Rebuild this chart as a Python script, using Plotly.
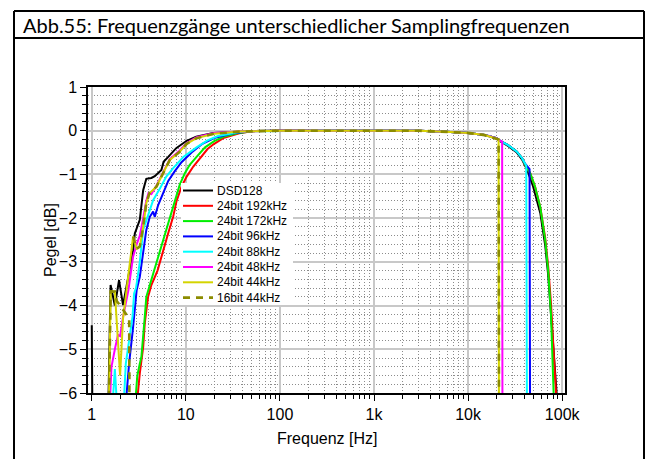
import plotly.graph_objects as go

# ---- measured frequency responses (Hz, dB) ----
# shared passband section
pass_f = [50, 100, 300, 1000, 3000, 6500, 10000, 15000, 20000]
pass_db = [-0.01, 0, 0, 0, 0, -0.03, -0.05, -0.1, -0.17]

dsd_low_f = [1.0, 1.02, 1.48, 1.585, 1.76, 1.95, 2.15, 2.75, 2.87, 3.24, 3.52, 3.8, 4.3, 4.68, 5.5, 5.8, 6.5, 7.9, 10.2, 12.9, 19.5, 37]
dsd_low_db = [-4.45, -7, -7, -3.53, -4.0, -3.42, -3.99, -2.75, -2.35, -2.04, -1.36, -1.1, -1.08, -1.04, -0.9, -0.71, -0.6, -0.4, -0.23, -0.14, -0.05, -0.02]
dsd_high_f = [21900, 26600, 33000, 37500, 42500, 49000, 58500, 66000, 71000, 76000, 81000, 85000, 90000]
dsd_high_db = [-0.24, -0.35, -0.5, -0.66, -0.9, -1.27, -1.88, -2.62, -3.3, -4.2, -5.1, -5.7, -6.4]

r192_low_f = [3.0, 3.24, 3.52, 3.66, 3.97, 4.3, 5.0, 5.74, 6.48, 7.33, 7.94, 9.0, 10.2, 12, 14.1, 17, 20, 25, 37]
r192_low_db = [-6.3, -5.55, -4.95, -4.4, -3.8, -3.53, -3.2, -2.73, -2.35, -1.97, -1.62, -1.28, -1.05, -0.82, -0.63, -0.42, -0.3, -0.17, -0.06]
r192_high_f = [21900, 26600, 33000, 37500, 40500, 45700, 51600, 58500, 66000, 71000, 76000, 81000, 85000, 88000]
r192_high_db = [-0.23, -0.33, -0.48, -0.63, -0.78, -0.97, -1.29, -1.75, -2.45, -3.1, -3.95, -4.9, -5.7, -6.4]

r172_low_f = [2.88, 3.05, 3.24, 3.37, 3.66, 3.8, 4.14, 4.6, 5.3, 5.98, 6.76, 7.64, 8.6, 9.76, 11, 13, 16, 20, 25, 37]
r172_low_db = [-6.3, -5.6, -5.33, -5.17, -4.26, -3.8, -3.53, -3.2, -2.73, -2.35, -1.97, -1.59, -1.24, -0.97, -0.78, -0.6, -0.38, -0.24, -0.14, -0.05]
r172_high_f = [21900, 26600, 33000, 37500, 40500, 45700, 51600, 58500, 66000, 71000, 76000, 79000, 82000]
r172_high_db = [-0.23, -0.33, -0.48, -0.63, -0.78, -0.97, -1.29, -1.75, -2.5, -3.2, -4.2, -5.1, -6.3]

r96_low_f = [2.15, 2.5, 2.73, 3.0, 3.24, 3.52, 3.8, 4.14, 4.49, 4.68, 5.08, 5.74, 6.5, 7.6, 9, 11.5, 15, 20, 30, 37]
r96_low_db = [-7, -5.3, -4.56, -3.65, -3.34, -2.8, -2.27, -1.97, -1.85, -1.97, -1.7, -1.43, -1.15, -0.93, -0.72, -0.5, -0.3, -0.17, -0.07, -0.04]
r96_high_f = [21900, 26600, 33000, 37500, 40500, 45000, 45600]
r96_high_db = [-0.23, -0.33, -0.48, -0.63, -0.76, -0.88, -7]

r88_low_f = [1.58, 1.76, 1.94, 2.1, 2.3, 2.5, 2.71, 2.82, 2.95, 3.08, 3.24, 3.52, 3.97, 4.49, 5.3, 6.2, 7.3, 9.4, 13, 17, 22, 37]
r88_low_db = [-7, -5.45, -7, -7, -5.33, -4.79, -4.26, -3.72, -3.6, -3.34, -3.0, -2.27, -1.93, -1.59, -1.32, -1.05, -0.86, -0.6, -0.38, -0.22, -0.12, -0.03]
r88_high_f = [21900, 26600, 33000, 37500, 41500, 42300]
r88_high_db = [-0.23, -0.33, -0.48, -0.63, -0.8, -7]

r48_low_f = [1.5, 1.62, 1.76, 1.9, 2.0, 2.15, 2.45, 2.75, 3.0, 3.24, 3.52, 3.8, 4.0, 4.3, 4.87, 5.7, 6.75, 8.6, 10.2, 13, 20, 37]
r48_low_db = [-7, -5.4, -5.0, -4.67, -4.7, -4.26, -3.65, -2.88, -2.6, -2.4, -2.0, -1.6, -1.43, -1.45, -1.26, -0.95, -0.65, -0.45, -0.28, -0.15, -0.05, -0.02]
r48_high_f = [21900, 23000, 23200]
r48_high_db = [-0.23, -0.25, -7]

r44_low_f = [1.5, 1.59, 1.76, 1.83, 2.0, 2.15, 2.35, 2.54, 2.75, 3.0, 3.24, 3.52, 3.8, 4.1, 4.87, 5.7, 6.75, 8.6, 10.2, 13, 20, 37]
r44_low_db = [-7, -3.68, -3.68, -4.22, -5.6, -4.3, -3.65, -3.11, -2.42, -2.7, -2.65, -2.2, -1.66, -1.43, -1.28, -0.98, -0.67, -0.48, -0.3, -0.17, -0.07, -0.02]
r44_high_f = [20800, 21100, 21300]
r44_high_db = [-0.19, -0.2, -7]

b16_low_f = [1.5, 1.59, 1.76, 1.85, 2.1, 2.35, 2.5, 2.52, None, 2.75, 3.0, 3.24, 3.52, 3.8, 4.1, 4.87, 5.7, 6.75, 8.6, 10.2, 13, 20, 37]
b16_low_db = [-7, -3.68, -3.68, -3.9, -4.06, -4.2, -4.3, -7, None, -2.42, -2.7, -2.65, -2.2, -1.66, -1.43, -1.28, -0.98, -0.67, -0.48, -0.3, -0.17, -0.07, -0.02]
b16_high_f = [20800, 21100, 21300]
b16_high_db = [-0.19, -0.2, -7]

names = ["DSD128", "24bit 192kHz", "24bit 172kHz", "24bit 96kHz",
         "24bit 88kHz", "24bit 48kHz", "24bit 44kHz", "16bit 44kHz"]

series = [
    (dsd_low_f, dsd_low_db, dsd_high_f, dsd_high_db),
    (r192_low_f, r192_low_db, r192_high_f, r192_high_db),
    (r172_low_f, r172_low_db, r172_high_f, r172_high_db),
    (r96_low_f, r96_low_db, r96_high_f, r96_high_db),
    (r88_low_f, r88_low_db, r88_high_f, r88_high_db),
    (r48_low_f, r48_low_db, r48_high_f, r48_high_db),
    (r44_low_f, r44_low_db, r44_high_f, r44_high_db),
    (b16_low_f, b16_low_db, b16_high_f, b16_high_db),
]

colors = ["#000000", "#ff0000", "#00ee00", "#0000ff", "#00ffff", "#ff00ff", "#d4d400", "#8c8c00"]
dashes = ["solid"] * 7 + ["7px,6px"]
widths = [2, 2, 2, 2, 2, 2, 2, 2.6]

# ---- geometry of the plot area (pixels) ----
W, H = 652, 459
PL, PR, PT, PB = 88, 565, 87, 393


def px(x):
    return (x - PL) / (PR - PL)


def py(y):
    return (PB - y) / (PB - PT)


fig = go.Figure()
for name, (lf, ld, hf, hd), c, d, w in zip(names, series, colors, dashes, widths):
    fig.add_trace(go.Scatter(
        x=lf + pass_f + hf, y=ld + pass_db + hd, mode="lines", name=name,
        line=dict(color=c, width=w, dash=d), showlegend=False,
    ))

minor_x = [m * 10 ** k for k in range(0, 5) for m in range(2, 10)]
font = "Liberation Sans, Arial, sans-serif"
dotted = dict(showgrid=True, gridcolor="#8c8c8c", griddash="1px,2px", gridwidth=1)

fig.update_xaxes(
    type="log", range=[-0.04, 5.03],
    tickvals=[1, 10, 100, 1000, 10000, 100000],
    ticktext=["1", "10", "100", "1k", "10k", "100k"],
    ticks="outside", ticklen=6, tickwidth=1, tickcolor="black",
    showline=True, linecolor="black", linewidth=1.5, mirror=True,
    showgrid=True, gridcolor="#c8c8c8", gridwidth=1.5,
    minor=dict(tickvals=minor_x, ticks="outside", ticklen=4, tickcolor="black", **dotted),
    tickfont=dict(family=font, size=16, color="black"),
    zeroline=False,
)
fig.update_yaxes(
    range=[-6, 1], dtick=1, tick0=0,
    ticks="outside", ticklen=6, tickwidth=1, tickcolor="black",
    showline=True, linecolor="black", linewidth=1.5, mirror=True,
    showgrid=True, gridcolor="#c8c8c8", gridwidth=1.5,
    minor=dict(dtick=0.2, ticks="outside", ticklen=4, tickcolor="black", **dotted),
    tickfont=dict(family=font, size=16, color="black"),
    zeroline=False,
)

shapes = []
# outer frame and title row
frame = dict(type="line", xref="paper", yref="paper", line=dict(color="black", width=2))
shapes.append(dict(frame, x0=px(14), x1=px(14), y0=py(11), y1=py(470)))
shapes.append(dict(frame, x0=px(644), x1=px(644), y0=py(11), y1=py(470)))
shapes.append(dict(frame, x0=px(14), x1=px(644), y0=py(11), y1=py(11)))
shapes.append(dict(frame, x0=px(14), x1=px(644), y0=py(38), y1=py(38)))

# legend box
shapes.append(dict(type="rect", xref="paper", yref="paper", layer="above",
                   x0=px(181), x1=px(293), y0=py(183), y1=py(305),
                   fillcolor="white", line=dict(width=0)))
annotations = []
for i, (name, c, d, w) in enumerate(zip(names, colors, dashes, widths)):
    yy = 190.5 + i * 15.3
    shapes.append(dict(type="line", xref="paper", yref="paper", layer="above",
                       x0=px(183), x1=px(213), y0=py(yy), y1=py(yy),
                       line=dict(color=c, width=w, dash=d)))
    annotations.append(dict(text=name, xref="paper", yref="paper", x=px(215), y=py(yy),
                            xanchor="left", yanchor="middle", showarrow=False,
                            font=dict(family=font, size=12, color="black")))

# axis titles
annotations.append(dict(text="Frequenz [Hz]", xref="paper", yref="paper", x=px(327), y=py(438),
                        xanchor="center", yanchor="middle", showarrow=False,
                        font=dict(family=font, size=16, color="black")))
annotations.append(dict(text="Pegel [dB]", xref="paper", yref="paper", x=px(50), y=py(240),
                        xanchor="center", yanchor="middle", showarrow=False, textangle=-90,
                        font=dict(family=font, size=16, color="black")))

annotations.append(dict(text="Abb.55: Frequenzgänge unterschiedlicher Samplingfrequenzen",
                        xref="paper", yref="paper", x=px(21), y=py(25),
                        xanchor="left", yanchor="middle", showarrow=False,
                        font=dict(family="Lato, sans-serif", size=20, color="black")))

fig.update_layout(
    width=W, height=H,
    margin=dict(l=PL, r=W - PR, t=PT, b=H - PB),
    paper_bgcolor="white", plot_bgcolor="white",
    shapes=shapes, annotations=annotations,
)

fig.write_html("out.html")
